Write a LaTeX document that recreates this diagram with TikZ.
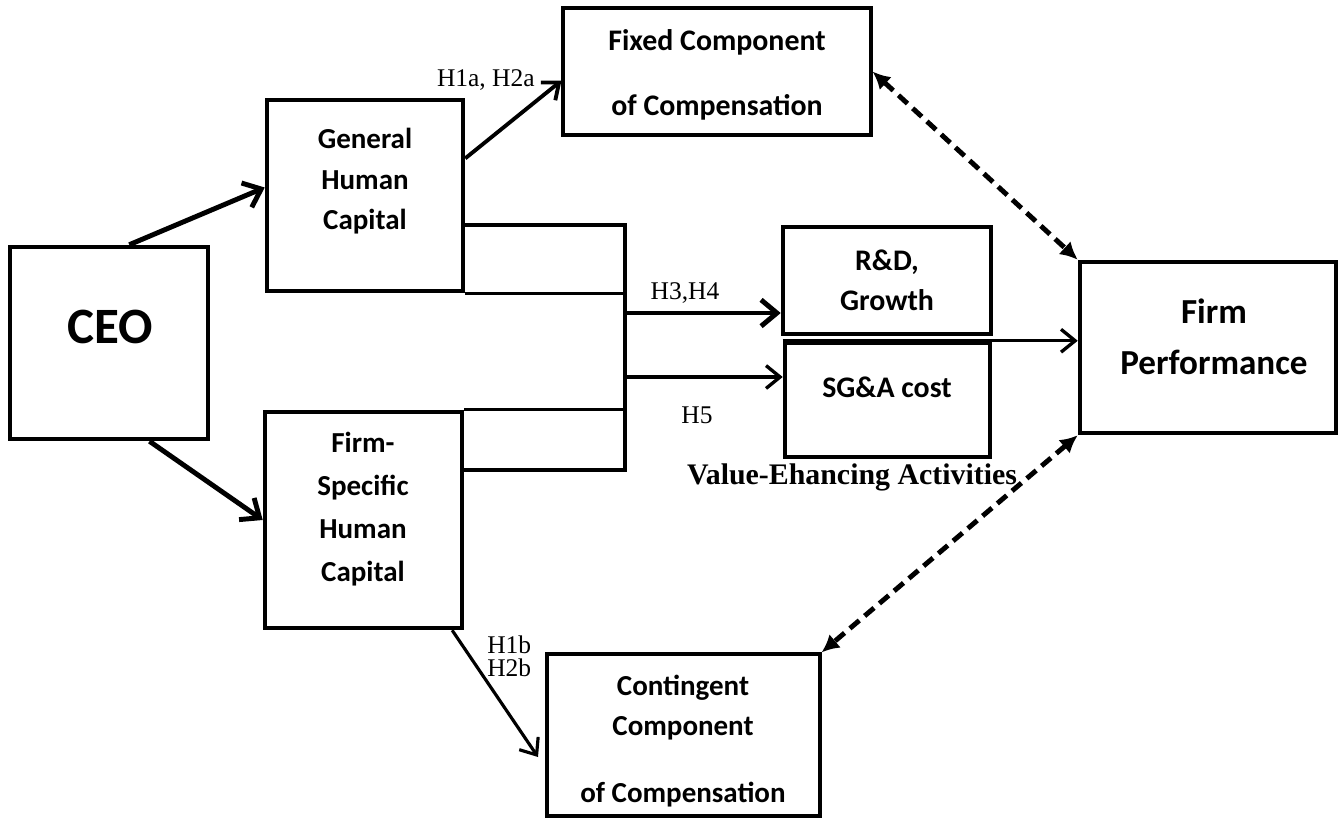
\documentclass[tikz,border=0pt]{standalone}
\usepackage{fontspec}
\setmainfont{Liberation Serif}
\newfontfamily\boxfont{Carlito}
\usepackage{tikz}
\usetikzlibrary{arrows.meta, positioning, calc}
\tikzstyle{box} = [draw=black, line width=2.6pt, fill=white, inner sep=0pt]
\tikzstyle{thinbox} = [draw=black, line width=1.8pt, fill=white, inner sep=0pt]
\tikzstyle{boxtxt} = [font=\boxfont\bfseries\fontsize{16.5}{23}\selectfont, align=center, inner sep=0pt]
\tikzstyle{hyp} = [font=\fontsize{14.5}{13}\selectfont, inner sep=0pt]
\tikzstyle{arrow} = [line width=1.9pt, -{Straight Barb[length=8pt,width=13pt]}]
\tikzstyle{bigarrow} = [line width=2.8pt, -{Straight Barb[length=9pt,width=15pt]}]
\tikzstyle{dasharrow} = [line width=2.8pt, dash pattern=on 7pt off 4pt, {Latex[length=10pt,width=10pt]}-{Latex[length=10pt,width=10pt]}]
\tikzstyle{link} = [line width=1.9pt]

\begin{document}
\begin{tikzpicture}[x=0.02cm, y=-0.02cm]
          \useasboundingbox (0,0) rectangle (1340,819);

          % boxes
          \node[box, minimum width=3.96cm, minimum height=3.84cm] (ceo) at (109,343) {};
          \node[box, minimum width=3.92cm, minimum height=3.82cm] (gen) at (365,195.5) {};
          \node[box, minimum width=3.94cm, minimum height=4.32cm] (spec) at (363.5,520) {};
          \node[thinbox, minimum width=6.16cm, minimum height=2.54cm] (fixed) at (717,71.5) {};
          \node[box, minimum width=4.16cm, minimum height=2.14cm] (rd) at (887,280.5) {};
          \node[box, minimum width=4.10cm, minimum height=2.28cm] (sga) at (887.5,400) {};
          \node[box, minimum width=5.12cm, minimum height=3.42cm] (perf) at (1208,347.5) {};
          \node[thinbox, minimum width=5.46cm, minimum height=3.24cm] (cont) at (683.5,735) {};

          \node[boxtxt, font=\boxfont\bfseries\fontsize{29}{32}\selectfont] (ceo-txt) at (110,327) {CEO};
          \node[boxtxt] (gen-txt) at (365,181.5) {General\\Human\\Capital};
          \node[boxtxt, font=\boxfont\bfseries\fontsize{16.5}{24.4}\selectfont] (spec-txt) at (363,509) {Firm-\\Specific\\Human\\Capital};
          \node[boxtxt, font=\boxfont\bfseries\fontsize{17}{37.4}\selectfont] (fixed-txt) at (717,75) {Fixed Component\\of Compensation};
          \node[boxtxt, font=\boxfont\bfseries\fontsize{17}{22.7}\selectfont] (rd-txt) at (887,280) {R\&D,\\Growth};
          \node[boxtxt, font=\boxfont\bfseries\fontsize{17}{22.7}\selectfont] (sga-txt) at (887,387) {SG\&A cost};
          \node[boxtxt, font=\boxfont\bfseries\fontsize{20}{29}\selectfont] (perf-txt) at (1214,337) {Firm\\Performance};
          \node[boxtxt] (cont-txt) at (683,741) {Contingent\\Component\\[15pt]of Compensation};

          % joints of the bracket
          \coordinate (jtop) at (625,225);
          \coordinate (jbot) at (625,470);
          \coordinate (jrd) at (625,313);
          \coordinate (jsga) at (625,377);
          \coordinate (hb) at (538,757);

          \draw[link] (gen.east |- jtop) -- (jtop) -- (jbot) -- (spec.east |- jbot);
          \draw[link] (gen.south east) -- (gen.south east -| jtop);
          \draw[link] (spec.north east) -- (spec.north east -| jtop);

          \draw[bigarrow] ($(ceo.north west)!0.6!(ceo.north east)$) -- ($(gen.west)+(0,-8)$);
          \draw[bigarrow] ($(ceo.south west)!0.7!(ceo.south east)$) -- (spec.west);
          \draw[arrow, line width=2.2pt] ($(gen.north east)!0.31!(gen.south east)$) -- ($(fixed.north west)!0.57!(fixed.south west)$);
          \draw[arrow, line width=1.8pt] ($(spec.south west)!0.94!(spec.south east)$) -- (hb);
          \draw[bigarrow] (jrd) -- (rd.west |- jrd);
          \draw[arrow] (jsga) -- (sga.west |- jsga);
          \draw[arrow] (sga.north west) -- (sga.north west -| perf.west);
          \draw[dasharrow] (fixed.east) -- (perf.north west);
          \draw[dasharrow] (perf.south west) -- (cont.north east);

          % hypotheses
          \node[hyp, anchor=east] (h1a) at (535,80) {H1a, H2a};
          \node[hyp] (h34) at (685,293) {H3,H4};
          \node[hyp] (h5) at (697,415) {H5};
          \node[hyp, align=left, anchor=west] (h1b) at (487,656) {H1b\\H2b};
          \node[font=\bfseries\fontsize{17}{18}\selectfont, inner sep=0pt] (vea) at (852,477) {Value-Ehancing Activities};
\end{tikzpicture}
\end{document}
